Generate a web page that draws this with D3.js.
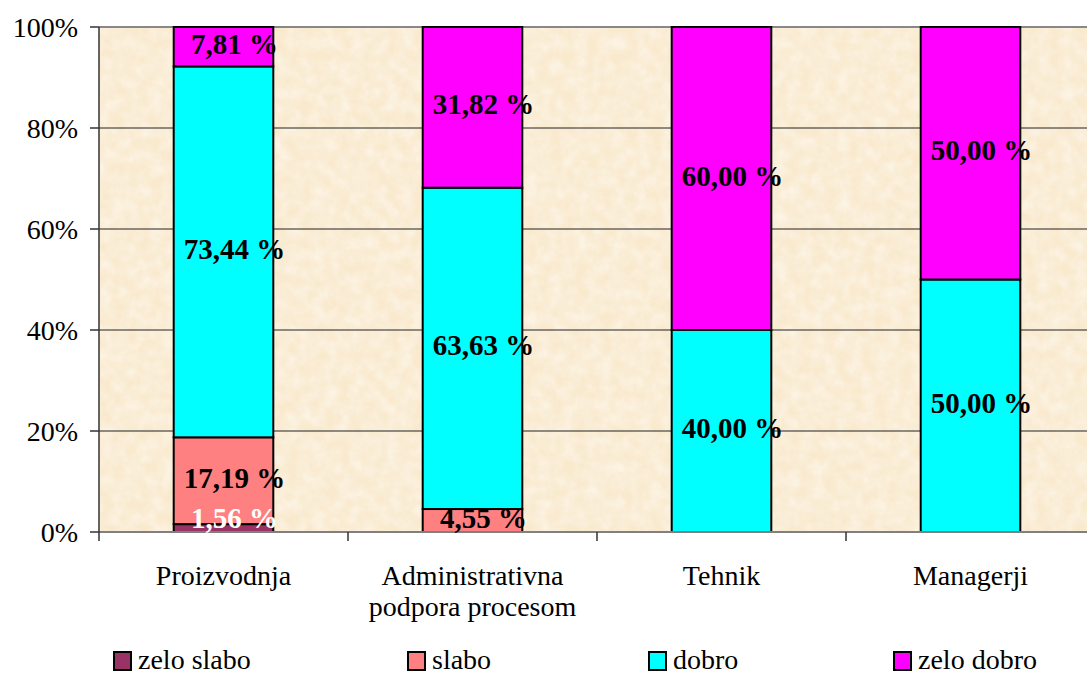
<!DOCTYPE html>
<html>
<head>
<meta charset="utf-8">
<script src="https://cdn.jsdelivr.net/npm/d3@7"></script>
<style>
  html, body { margin: 0; padding: 0; background: #ffffff; }
  svg { display: block; }
  text { font-family: "Liberation Serif", "Times New Roman", serif; }
</style>
</head>
<body>
<svg id="chart" width="1087" height="674"></svg>
<script>
// Categories (line breaks mark wrapped axis labels)
const categories = ["Proizvodnja", "Administrativna\npodpora procesom", "Tehnik", "Managerji"];

// Series names and colours, bottom to top
const seriesNames = ["zelo slabo", "slabo", "dobro", "zelo dobro"];
const seriesColors = ["#993366", "#FF8080", "#00FFFF", "#FF00FF"];

// Share of answers per category (%)
const zeloSlabo = [1.56, 0, 0, 0];
const slabo     = [17.19, 4.55, 0, 0];
const dobro     = [73.44, 63.63, 40.00, 50.00];
const zeloDobro = [7.81, 31.82, 60.00, 50.00];

// Y axis ticks
const yTicks = [0, 20, 40, 60, 80, 100];
const yTickLabels = ["0%", "20%", "40%", "60%", "80%", "100%"];

const seriesValues = [zeloSlabo, slabo, dobro, zeloDobro];
const rows = categories.map((c, i) => {
  const r = { category: c };
  seriesNames.forEach((s, k) => { r[s] = seriesValues[k][i]; });
  return r;
});

const svg = d3.select("#chart");
const plot = { left: 99, right: 1095, top: 27, bottom: 532 };

const x = d3.scaleBand()
  .domain(categories)
  .range([plot.left, plot.right])
  .paddingInner(0.6)
  .paddingOuter(0.3);

const y = d3.scaleLinear().domain([0, 100]).range([plot.bottom, plot.top]);

// Parchment-like plot background: light cream base with fine pale mottling
const defs = svg.append("defs");
const f = defs.append("filter").attr("id", "paper")
  .attr("x", 0).attr("y", 0).attr("width", 1).attr("height", 1);
f.append("feTurbulence").attr("type", "fractalNoise")
  .attr("baseFrequency", 0.08).attr("numOctaves", 4).attr("seed", 3);
f.append("feColorMatrix").attr("type", "matrix")
  .attr("values", "0 0 0 0 1  0 0 0 0 0.99  0 0 0 0 0.96  0.8 0 0 0 -0.2");
f.append("feComposite").attr("in2", "SourceGraphic").attr("operator", "in");

svg.append("rect")
  .attr("x", plot.left).attr("y", plot.top)
  .attr("width", plot.right - plot.left).attr("height", plot.bottom - plot.top)
  .attr("fill", "#F9E9CD");
svg.append("rect")
  .attr("x", plot.left).attr("y", plot.top)
  .attr("width", plot.right - plot.left).attr("height", plot.bottom - plot.top)
  .attr("fill", "#ffffff")
  .attr("filter", "url(#paper)");

// Gridlines
svg.append("g")
  .selectAll("line")
  .data(yTicks.filter(t => t > 0 && t < 100))
  .join("line")
  .attr("x1", plot.left).attr("x2", plot.right)
  .attr("y1", d => y(d)).attr("y2", d => y(d))
  .attr("stroke", "#222").attr("stroke-width", 1);

// Top border of plot area
svg.append("line")
  .attr("x1", plot.left).attr("x2", plot.right)
  .attr("y1", y(100)).attr("y2", y(100))
  .attr("stroke", "#888").attr("stroke-width", 2);

// Stacked bars
const stack = d3.stack().keys(seriesNames);
const layers = stack(rows);

const gBars = svg.append("g");
layers.forEach((layer, k) => {
  gBars.append("g")
    .selectAll("rect")
    .data(layer.filter(d => d[1] - d[0] > 0))
    .join("rect")
    .attr("x", d => x(d.data.category))
    .attr("width", x.bandwidth())
    .attr("y", d => y(d[1]))
    .attr("height", d => y(d[0]) - y(d[1]))
    .attr("fill", seriesColors[k])
    .attr("stroke", "#000")
    .attr("stroke-width", 2);
});

// Axes
svg.append("line")
  .attr("x1", plot.left).attr("x2", plot.right)
  .attr("y1", plot.bottom).attr("y2", plot.bottom)
  .attr("stroke", "#808080").attr("stroke-width", 2);
svg.append("line")
  .attr("x1", plot.left).attr("x2", plot.left)
  .attr("y1", plot.top).attr("y2", plot.bottom + 9)
  .attr("stroke", "#333").attr("stroke-width", 1.5);

// Y ticks and labels
const yAxis = svg.append("g");
yAxis.selectAll("line")
  .data(yTicks)
  .join("line")
  .attr("x1", plot.left - 9).attr("x2", plot.left)
  .attr("y1", d => y(d)).attr("y2", d => y(d))
  .attr("stroke", "#333").attr("stroke-width", 1.5);
yAxis.selectAll("text")
  .data(yTicks)
  .join("text")
  .attr("x", 78)
  .attr("y", d => y(d) + 10)
  .attr("text-anchor", "end")
  .attr("font-size", 28)
  .attr("fill", "#000")
  .text((d, i) => yTickLabels[i]);

// Category separators below axis
const step = x.step();
svg.append("g")
  .selectAll("line")
  .data(d3.range(1, categories.length))
  .join("line")
  .attr("x1", i => plot.left + i * step).attr("x2", i => plot.left + i * step)
  .attr("y1", plot.bottom).attr("y2", plot.bottom + 9)
  .attr("stroke", "#333").attr("stroke-width", 1.5);

// Category labels
svg.append("g")
  .selectAll("text")
  .data(categories)
  .join("text")
  .attr("x", d => x(d) + x.bandwidth() / 2)
  .attr("y", 585)
  .attr("text-anchor", "middle")
  .attr("font-size", 28)
  .attr("fill", "#000")
  .each(function(d) {
    d3.select(this).selectAll("tspan")
      .data(d.split("\n"))
      .join("tspan")
      .attr("x", x(d) + x.bandwidth() / 2)
      .attr("dy", (t, i) => i === 0 ? 0 : 31)
      .text(t => t);
  });

// Value labels, centred in each segment and kept inside the plot area
const fmt = v => d3.format(".2f")(v).replace(".", ",") + " %";
const halfLabel = 14;
const labelCenter = d => {
  const c = (y(d[0]) + y(d[1])) / 2 - 3;
  return Math.max(plot.top + halfLabel, Math.min(plot.bottom - halfLabel, c));
};
const gLabels = svg.append("g");
layers.forEach((layer, k) => {
  gLabels.append("g")
    .selectAll("text")
    .data(layer.filter(d => d[1] - d[0] > 0))
    .join("text")
    .attr("x", d => x(d.data.category) + x.bandwidth() / 2 + 11)
    .attr("y", d => labelCenter(d) + 10)
    .attr("text-anchor", "middle")
    .attr("font-size", 29)
    .attr("font-weight", "bold")
    .attr("fill", k === 0 ? "#ffffff" : "#000000")
    .text(d => fmt(d[1] - d[0]));
});

// Legend
const legendX = [113, 407, 648, 893];
const legend = svg.append("g");
seriesNames.forEach((s, k) => {
  legend.append("rect")
    .attr("x", legendX[k] + 1).attr("y", 652)
    .attr("width", 17).attr("height", 18)
    .attr("fill", seriesColors[k])
    .attr("stroke", "#000").attr("stroke-width", 2);
  legend.append("text")
    .attr("x", legendX[k] + 25).attr("y", 669)
    .attr("font-size", 28)
    .attr("fill", "#000")
    .text(s);
});
</script>
</body>
</html>
